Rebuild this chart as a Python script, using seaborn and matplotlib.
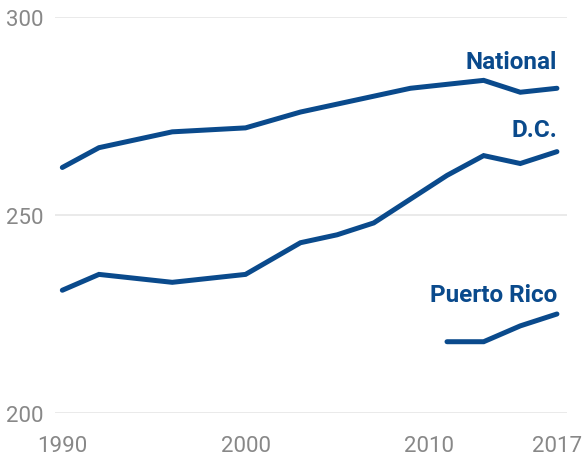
import matplotlib
matplotlib.use("Agg")
import matplotlib.pyplot as plt
import seaborn as sns
import pandas as pd

years_nat = [1990, 1992, 1996, 2000, 2003, 2005, 2007, 2009, 2011, 2013, 2015, 2017]
national = [262, 267, 271, 272, 276, 278, 280, 282, 283, 284, 281, 282]
years_dc = [1990, 1992, 1996, 2000, 2003, 2005, 2007, 2009, 2011, 2013, 2015, 2017]
dc = [231, 235, 233, 235, 243, 245, 248, 254, 260, 265, 263, 266]
years_pr = [2011, 2013, 2015, 2017]
pr = [218, 218, 222, 225]
series_names = ["National", "D.C.", "Puerto Rico"]
x_ticks = [1990, 2000, 2010, 2017]
y_ticks = [200, 250, 300]

df = pd.concat([
    pd.DataFrame({"year": years_nat, "score": national, "series": series_names[0]}),
    pd.DataFrame({"year": years_dc, "score": dc, "series": series_names[1]}),
    pd.DataFrame({"year": years_pr, "score": pr, "series": series_names[2]}),
])

sns.set_style("white")
plt.rcParams["font.family"] = ["Roboto", "DejaVu Sans"]

blue = "#0a4a8c"
fig = plt.figure(figsize=(5.82, 4.6), dpi=100)
ax = fig.add_axes([55 / 582, 1 - 414 / 460, (567 - 55) / 582, (414 - 18) / 460])

sns.lineplot(data=df, x="year", y="score", units="series", estimator=None,
             color=blue, lw=3.6, ax=ax, solid_capstyle="round", solid_joinstyle="miter")

ax.set_xlim(1989.6, 2017.55)
ax.set_ylim(200, 300)
ax.set_yticks(y_ticks)
ax.set_xticks(x_ticks)
ax.grid(axis="y", color="#e6e6e6", lw=1.2)
ax.set_axisbelow(True)
for s in ax.spines.values():
    s.set_visible(False)
ax.tick_params(axis="both", length=0, labelsize=16, labelcolor="#888888")
ax.tick_params(axis="y", pad=8)
ax.tick_params(axis="x", pad=16)
ax.set_xlabel("")
ax.set_ylabel("")

label_pos = {"National": 288.8, "D.C.": 271.5, "Puerto Rico": 229.8}
for name in series_names:
    ax.text(2017, label_pos[name], name, ha="right", va="center", fontsize=17.5,
            fontweight="bold", color=blue)

fig.savefig("out.png", dpi=100)
